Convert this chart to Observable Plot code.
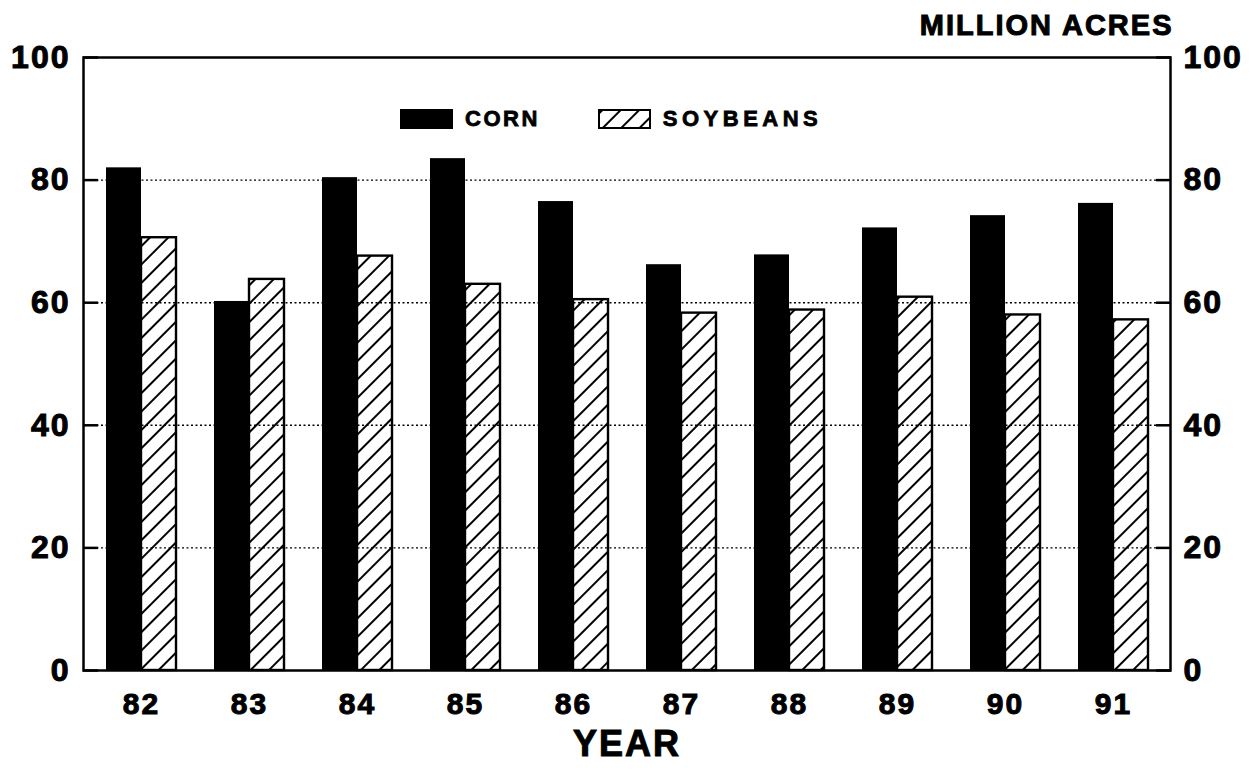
<!DOCTYPE html>
<html>
<head>
<meta charset="utf-8">
<script src="https://cdn.jsdelivr.net/npm/d3@7"></script>
<script src="https://cdn.jsdelivr.net/npm/@observablehq/plot@0.6"></script>
<style>
  body { margin: 0; background: #fff; }
  #wrap { position: relative; width: 1256px; height: 772px; font-family: "Liberation Sans", Arial, sans-serif; }
  #wrap svg text { letter-spacing: 2px; stroke: #000; stroke-width: 1px; }
  .legend { position: absolute; top: 106px; left: 400px; display: flex; align-items: center;
            font-weight: bold; font-size: 22px; letter-spacing: 2.5px; color: #000; -webkit-text-stroke: 0.8px #000; }
  .legend .wide { letter-spacing: 4.5px; }
  .sw { width: 53px; height: 20px; box-sizing: border-box; margin-right: 12px; }
  .sw.corn { background: #000; }
  .sw.soy { border: 2px solid #000; margin-left: 58px; }
</style>
</head>
<body>
<div id="wrap"></div>
<script>
// ---- data ----
const years = ["82", "83", "84", "85", "86", "87", "88", "89", "90", "91"];
const corn = [82.0, 60.2, 80.4, 83.5, 76.5, 66.2, 67.8, 72.2, 74.2, 76.2];
const soybeans = [70.6, 63.8, 67.6, 63.0, 60.5, 58.3, 58.8, 60.9, 58.0, 57.2];
const yTicks = [0, 20, 40, 60, 80, 100];
const gridTicks = [20, 40, 60, 80];
const seriesNames = ["CORN", "SOYBEANS"];
const unitLabel = "MILLION ACRES";
const xTitle = "YEAR";

// ---- layout ----
const W = 1256, H = 772;
const mL = 83, mR = 86, mT = 57, mB = 102;
const padInner = 0.356, padOuter = 0.178;
const step = (W - mL - mR) / (years.length - padInner + 2 * padOuter);
const half = step * (1 - padInner) / 2;

const cornData = years.map((y, i) => ({year: y, value: corn[i]}));
const soyData = years.map((y, i) => ({year: y, value: soybeans[i]}));

const font = "Liberation Sans, Arial, sans-serif";
const tickStyle = {stroke: "black", strokeWidth: 2.5, tickSize: -15, tickFormat: () => "", label: null};
const labelStyle = {tickSize: 0, tickPadding: 13, fontSize: 32, fontWeight: "bold", fontFamily: font, label: null};

const chart = Plot.plot({
  width: W, height: H,
  marginLeft: mL, marginRight: mR, marginTop: mT, marginBottom: mB,
  style: {background: "white", color: "black", fontFamily: font, overflow: "visible"},
  x: {domain: years, paddingInner: padInner, paddingOuter: padOuter, axis: null},
  y: {domain: [0, 100], axis: null},
  marks: [
    Plot.barY(cornData, {x: "year", y: "value", fill: "black", insetRight: half}),
    Plot.barY(soyData, {x: "year", y: "value", fill: "url(#hatch)", stroke: "black", strokeWidth: 2.4, insetLeft: half}),
    Plot.gridY(gridTicks, {stroke: "black", strokeOpacity: 1, strokeWidth: 1.4, strokeDasharray: "2,2.5"}),
    Plot.frame({stroke: "black", strokeWidth: 2.5}),
    Plot.axisY(yTicks, {anchor: "left", ...tickStyle}),
    Plot.axisY(yTicks, {anchor: "right", ...tickStyle}),
    Plot.axisY(yTicks, {anchor: "left", ...labelStyle}),
    Plot.axisY(yTicks, {anchor: "right", ...labelStyle}),
    Plot.axisX({anchor: "bottom", tickSize: 0, tickPadding: 22, fontSize: 30, fontWeight: "bold", fontFamily: font, label: null}),
    Plot.text([xTitle], {frameAnchor: "bottom", dy: 74, lineAnchor: "middle", fontSize: 36, fontWeight: "bold", fontFamily: font}),
    Plot.text([unitLabel], {frameAnchor: "top-right", textAnchor: "end", lineAnchor: "middle", dy: -32, dx: 3, fontSize: 29, fontWeight: "bold", fontFamily: font})
  ]
});

// hatch pattern
d3.select(chart).insert("defs", ":first-child").html(
  '<pattern id="hatch" patternUnits="userSpaceOnUse" width="13" height="13" patternTransform="rotate(45)">' +
  '<rect width="13" height="13" fill="white"/>' +
  '<line x1="1" y1="0" x2="1" y2="13" stroke="black" stroke-width="2"/>' +
  '</pattern>');

const wrap = document.getElementById("wrap");
wrap.appendChild(chart);

// legend
const legend = document.createElement("div");
legend.className = "legend";
const hatchSvg = '<svg width="49" height="16" style="display:block"><defs><pattern id="hatchL" patternUnits="userSpaceOnUse" width="13" height="13" patternTransform="rotate(45)"><rect width="13" height="13" fill="white"/><line x1="1" y1="0" x2="1" y2="13" stroke="black" stroke-width="2"/></pattern></defs><rect width="49" height="16" fill="url(#hatchL)"/></svg>';
legend.innerHTML =
  '<div class="sw corn"></div><span>' + seriesNames[0] + '</span>' +
  '<div class="sw soy">' + hatchSvg + '</div><span class="wide">' + seriesNames[1] + '</span>';
wrap.appendChild(legend);
</script>
</body>
</html>
